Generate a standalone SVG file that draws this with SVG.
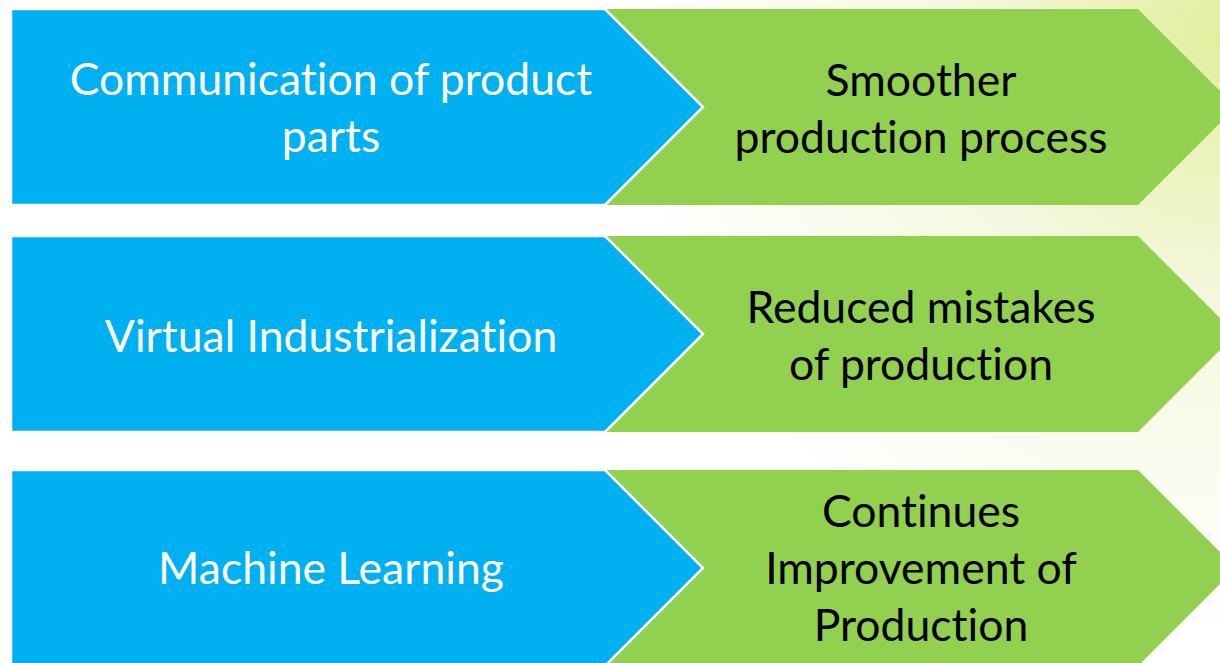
<svg xmlns="http://www.w3.org/2000/svg" width="1220" height="663" viewBox="0 0 1220 663">
<defs>
<radialGradient id="bg" cx="1220" cy="40" r="600" gradientUnits="userSpaceOnUse">
<stop offset="0" stop-color="#e4eea0"/>
<stop offset="0.45" stop-color="#f5f8e0"/>
<stop offset="1" stop-color="#ffffff"/>
</radialGradient>
</defs>
<style>
.blue{fill:#00b0f0;stroke:#ffffff;stroke-width:2.5;stroke-linejoin:miter}
.green{fill:#92d050}
.tb,.tg{font-family:Lato,"Liberation Sans",sans-serif;font-size:44.5px;text-anchor:middle;font-variant-ligatures:none;font-feature-settings:"liga" 0}
.tb{fill:#ffffff}
.tg{fill:#000000}
</style>
<rect width="1220" height="663" fill="url(#bg)"/>
<g id="row1">
<g id="green1"><polygon class="green" points="605,9 1138,9 1236,107 1138,205 605,205 703,107"/>
<text class="tg" x="921" y="96">Smoother</text>
<text class="tg" x="921" y="153">production process</text></g>
<g id="blue1"><polygon class="blue" points="11,9 605,9 703,107 605,205 11,205"/>
<text class="tb" x="331" y="95">Communication of product</text>
<text class="tb" x="331" y="152">parts</text></g>
</g>
<g id="row2">
<g id="green2"><polygon class="green" points="605,236 1138,236 1236,334 1138,432 605,432 703,334"/>
<text class="tg" x="921" y="323">Reduced mistakes</text>
<text class="tg" x="921" y="380">of production</text></g>
<g id="blue2"><polygon class="blue" points="11,236 605,236 703,334 605,432 11,432"/>
<text class="tb" x="331" y="352">Virtual Industrialization</text></g>
</g>
<g id="row3">
<g id="green3"><polygon class="green" points="605,470 1138,470 1236,568 1138,666 605,666 703,568"/>
<text class="tg" x="921" y="527">Continues</text>
<text class="tg" x="921" y="584">Improvement of</text>
<text class="tg" x="921" y="641">Production</text></g>
<g id="blue3"><polygon class="blue" points="11,470 605,470 703,568 605,666 11,666"/>
<text class="tb" x="331" y="584">Machine Learning</text></g>
</g>
<g id="connectors"></g>
</svg>
